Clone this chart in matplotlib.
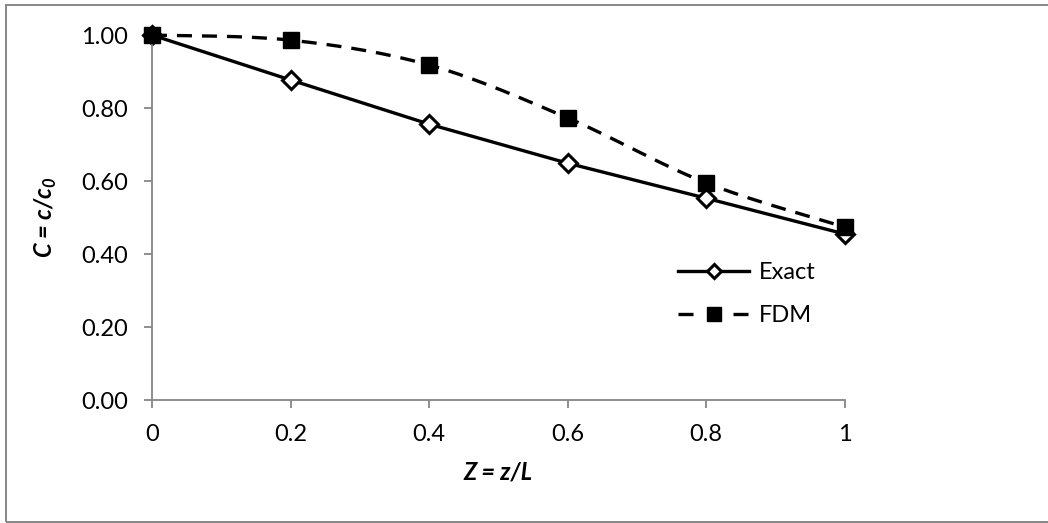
import numpy as np
import matplotlib
matplotlib.use("Agg")
import matplotlib.pyplot as plt
from matplotlib.lines import Line2D

plt.rcParams['font.family'] = ['Lato', 'DejaVu Sans']
plt.rcParams['mathtext.fontset'] = 'custom'
plt.rcParams['mathtext.bf'] = 'Lato:bold:italic'

# data
z = [0, 0.2, 0.4, 0.6, 0.8, 1.0]
exact = [1.000, 0.877, 0.756, 0.649, 0.553, 0.455]
fdm = [1.000, 0.986, 0.918, 0.773, 0.595, 0.474]
yticks = [0.0, 0.2, 0.4, 0.6, 0.8, 1.0]
xticks = [0, 0.2, 0.4, 0.6, 0.8, 1]
xlabels = ['0', '0.2', '0.4', '0.6', '0.8', '1']


def smooth(x, y, n=30):
    # Excel-like smoothed line: bezier through points, catmull-rom tangents
    x = np.asarray(x, float)
    y = np.asarray(y, float)
    px = np.concatenate([[x[0]], x, [x[-1]]])
    py = np.concatenate([[y[0]], y, [y[-1]]])
    t = np.linspace(0, 1, n)
    xs, ys = [], []
    for i in range(1, len(px) - 2):
        p0 = np.array([px[i], py[i]])
        p3 = np.array([px[i + 1], py[i + 1]])
        c1 = p0 + (np.array([px[i + 1], py[i + 1]]) - np.array([px[i - 1], py[i - 1]])) / 6
        c2 = p3 - (np.array([px[i + 2], py[i + 2]]) - np.array([px[i], py[i]])) / 6
        b = ((1 - t) ** 3)[:, None] * p0 + (3 * (1 - t) ** 2 * t)[:, None] * c1 \
            + (3 * (1 - t) * t ** 2)[:, None] * c2 + (t ** 3)[:, None] * p3
        xs.extend(b[:, 0])
        ys.extend(b[:, 1])
    return xs, ys


fs = 17
lw = 2.4
gray = '#868686'

fig = plt.figure(figsize=(10.48, 5.23), dpi=100)
ax = fig.add_axes([0.145, 0.235, 0.661, 0.698])

# Exact first, FDM drawn on top of it
ax.plot(z, exact, color='black', lw=lw, marker='D', ms=9.5, mfc='white',
        mec='black', mew=2.2, zorder=2, clip_on=False)
fx, fy = smooth(z, fdm)
ax.plot(fx, fy, color='black', lw=lw, dashes=(4.5, 3.0), zorder=3, clip_on=False)
ax.plot(z, fdm, ls='none', marker='s', ms=12, color='black', zorder=4, clip_on=False)

# legend (smaller markers, as in the original)
h1 = Line2D([], [], color='black', lw=lw, marker='D', ms=7, mfc='white', mew=2.2)
h2 = Line2D([], [], color='black', lw=lw, dashes=(4.5, 12.0), marker='s', ms=9.5)
ax.legend([h1, h2], ['Exact', 'FDM'], loc='center left',
          bbox_to_anchor=(0.743, 0.29), frameon=False, fontsize=fs,
          handlelength=3.0, handletextpad=0.4, labelspacing=0.95, borderpad=0)

ax.set_xlim(0, 1)
ax.set_ylim(0, 1)
ax.set_xticks(xticks)
ax.set_xticklabels(xlabels)
ax.set_yticks(yticks)
ax.set_yticklabels(['%.2f' % v for v in yticks])
ax.tick_params(labelsize=fs, color=gray, length=5.5, width=1.3)
ax.tick_params(axis='x', pad=12)
ax.tick_params(axis='y', pad=12)
for s in ['top', 'right']:
    ax.spines[s].set_visible(False)
for s in ['left', 'bottom']:
    ax.spines[s].set_color(gray)
    ax.spines[s].set_linewidth(1.3)

ax.set_xlabel('Z = z/L', fontsize=fs, fontweight='bold', style='italic', labelpad=11)
ax.set_ylabel('C = c/c$_\\mathbf{0}$', fontsize=fs, fontweight='bold',
              style='italic', labelpad=16)

# outer chart border (right edge runs off the image)
fig.patches.append(plt.Rectangle((0.006, 0.001), 1.2, 0.989, transform=fig.transFigure,
                                 fill=False, edgecolor=gray, lw=1.4))

fig.savefig('out.png', dpi=100)
